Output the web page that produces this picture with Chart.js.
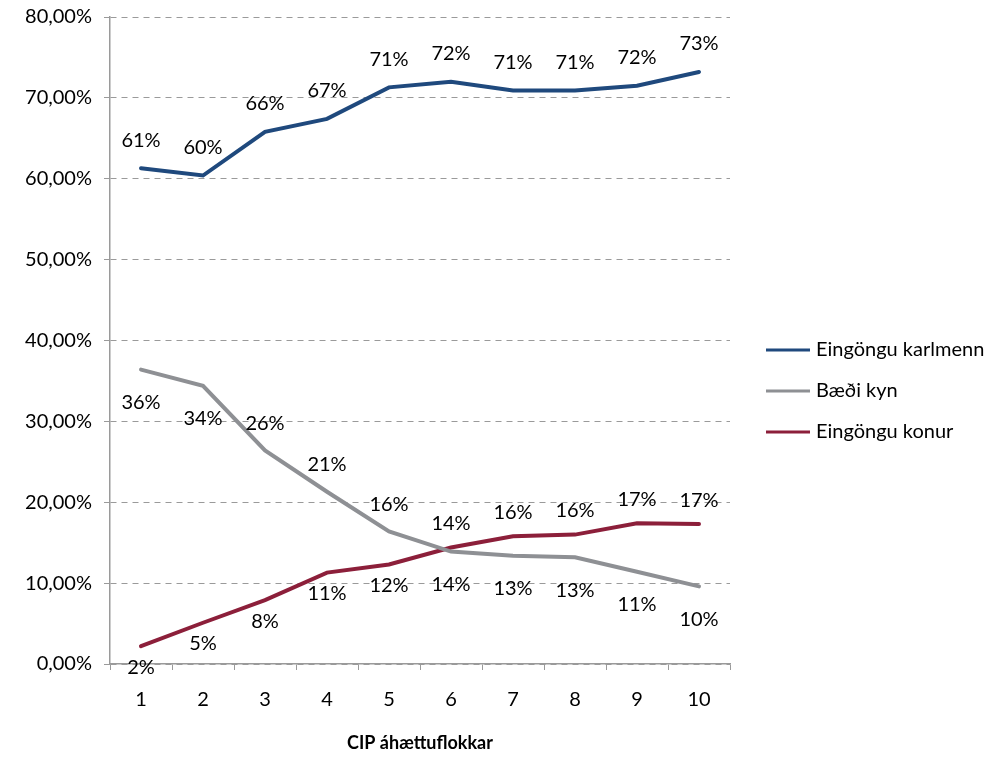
<!DOCTYPE html>
<html>
<head>
<meta charset="utf-8">
<script src="https://cdn.jsdelivr.net/npm/chart.js@4/dist/chart.umd.min.js"></script>
<style>
  html, body { margin: 0; padding: 0; background: #fff; }
  #wrap { width: 998px; height: 758px; position: relative; }
</style>
</head>
<body>
<div id="wrap"><canvas id="chart" width="998" height="758"></canvas></div>
<script>
const categories = ["1", "2", "3", "4", "5", "6", "7", "8", "9", "10"];
const karlmenn = [61.3, 60.4, 65.8, 67.4, 71.3, 72.0, 70.9, 70.9, 71.5, 73.2];
const baediKyn = [36.4, 34.4, 26.4, 21.3, 16.4, 13.9, 13.4, 13.2, 11.4, 9.6];
const konur = [2.2, 5.1, 7.9, 11.3, 12.3, 14.4, 15.8, 16.0, 17.4, 17.3];
const yTicks = [0, 10, 20, 30, 40, 50, 60, 70, 80];

// where each data label sits: -1 above the point, 1 below
const labelSide = [
    [-1, -1, -1, -1, -1, -1, -1, -1, -1, -1],
    [1, 1, -1, -1, -1, 1, 1, 1, 1, 1],
    [1, 1, 1, 1, 1, -1, -1, -1, -1, -1]
];
// pixel gap per series, above / below
const gapAbove = [28, 27, 24];
const gapBelow = [30, 33, 21];

const font = "Lato, 'Open Sans', sans-serif";

// data labels like "61%"
const labelPlugin = {
    id: 'pointLabels',
    afterDatasetsDraw(chart) {
        const ctx = chart.ctx;
        ctx.save();
        ctx.font = '20px ' + font;
        ctx.fillStyle = '#000';
        ctx.textAlign = 'center';
        ctx.textBaseline = 'middle';
        chart.data.datasets.forEach((ds, i) => {
            chart.getDatasetMeta(i).data.forEach((pt, j) => {
                const txt = Math.round(ds.data[j]) + '%';
                const dy = labelSide[i][j] < 0 ? -gapAbove[i] : gapBelow[i];
                ctx.fillText(txt, pt.x, pt.y + dy);
            });
        });
        ctx.restore();
    }
};

// legend on the right, drawn by hand
const legendPlugin = {
    id: 'sideLegend',
    afterDraw(chart) {
        const ctx = chart.ctx;
        ctx.save();
        ctx.font = '20px ' + font;
        ctx.textBaseline = 'middle';
        chart.data.datasets.forEach((ds, i) => {
            const y = 350 + i * 41;
            ctx.strokeStyle = ds.borderColor;
            ctx.lineWidth = 3;
            ctx.beginPath();
            ctx.moveTo(766, y);
            ctx.lineTo(810, y);
            ctx.stroke();
            ctx.fillStyle = '#000';
            ctx.fillText(ds.label, 816, y);
        });
        ctx.restore();
    }
};

const datasets = [
    { label: 'Eingöngu karlmenn', data: karlmenn, borderColor: '#1F497D' },
    { label: 'Bæði kyn', data: baediKyn, borderColor: '#8E9094' },
    { label: 'Eingöngu konur', data: konur, borderColor: '#8C1F3A' }
].map(d => Object.assign(d, {
    borderWidth: 4,
    pointRadius: 0,
    fill: false,
    tension: 0,
    borderCapStyle: 'round'
}));

new Chart(document.getElementById('chart'), {
    type: 'line',
    data: { labels: categories, datasets: datasets },
    plugins: [labelPlugin, legendPlugin],
    options: {
        responsive: false,
        animation: false,
        layout: { padding: { top: 17, right: 268, left: 0, bottom: 0 } },
        plugins: { legend: { display: false }, tooltip: { enabled: false } },
        scales: {
            x: {
                offset: true,
                afterFit: axis => { axis.height = 94; },
                grid: {
                    display: true,
                    offset: true,
                    drawOnChartArea: false,
                    drawTicks: true,
                    tickLength: 6,
                    color: '#9a9a9a'
                },
                border: { color: '#9a9a9a', width: 1.5 },
                ticks: { font: { family: font, size: 20 }, color: '#000', padding: 18 },
                title: {
                    display: true,
                    text: 'CIP áhættuflokkar',
                    font: { family: font, size: 18, weight: 'bold' },
                    color: '#000',
                    padding: { top: 16 }
                }
            },
            y: {
                min: 0,
                max: 80,
                afterFit: axis => {
                    axis.width = 110;
                    axis.paddingTop = 0;
                    axis.paddingBottom = 0;
                },
                afterBuildTicks: axis => { axis.ticks = yTicks.map(v => ({ value: v })); },
                grid: {
                    color: '#9a9a9a',
                    lineWidth: 1,
                    tickLength: 6,
                    drawTicks: true
                },
                border: { color: '#9a9a9a', width: 1.5, dash: [6, 5] },
                ticks: {
                    font: { family: font, size: 20 },
                    color: '#000',
                    padding: 12,
                    callback: v => v.toFixed(2).replace('.', ',') + '%'
                }
            }
        }
    }
});
</script>
</body>
</html>
